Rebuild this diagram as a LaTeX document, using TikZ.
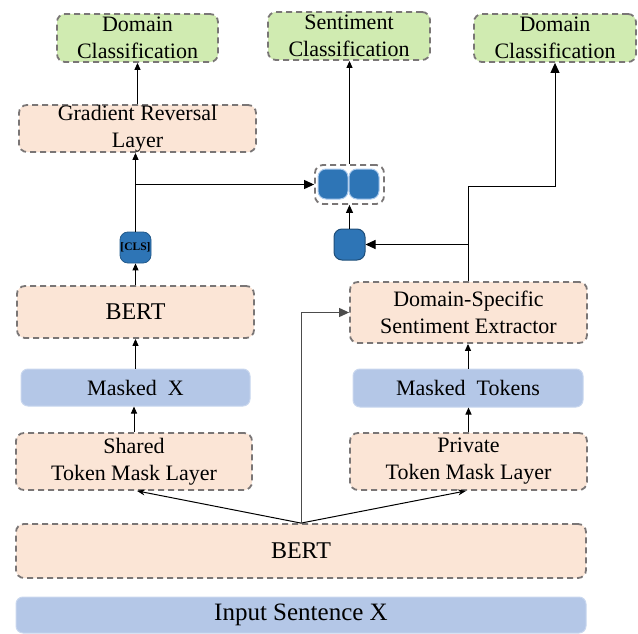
\documentclass[tikz,border=0pt]{standalone}
\usepackage{fontspec}
\setmainfont{Liberation Serif}
\usetikzlibrary{arrows.meta,calc}

\definecolor{peachfill}{HTML}{FBE5D6}
\definecolor{greenfill}{HTML}{D0EBB1}
\definecolor{barfill}{HTML}{B4C7E7}
\definecolor{barline}{HTML}{C8D6EE}
\definecolor{dashline}{HTML}{7A7676}
\definecolor{tokfill}{HTML}{2E75B6}
\definecolor{tokdark}{HTML}{1F4E79}
\definecolor{toklight}{HTML}{A9C9EC}

\tikzset{
  every node/.style={inner sep=0pt, align=center, font=\fontsize{22}{27}\selectfont},
  bigtext/.style={font=\fontsize{24}{28}\selectfont},
  dashbox/.style={draw=dashline, line width=1.8pt, dash pattern=on 6pt off 4pt,
    rounded corners=8pt},
  peachbox/.style={dashbox, fill=peachfill},
  greenbox/.style={dashbox, fill=greenfill},
  bluebar/.style={fill=barfill, draw=barline, line width=1pt, rounded corners=7pt},
  token/.style={fill=tokfill, rounded corners=8pt, minimum width=30pt, minimum height=30pt},
  arrS/.style={-{Triangle[length=7pt,width=6pt]}, line width=1pt},
  arrL/.style={-{Triangle[length=10pt,width=9pt]}, line width=1pt},
}

\begin{document}
\begin{tikzpicture}[x=1pt,y=-1pt]
\useasboundingbox (0,0) rectangle (638,634);

% classification heads
\node[greenbox, minimum width=161pt, minimum height=48pt] (dcl) at (137.5,38) {Domain\\Classification};
\node[greenbox, minimum width=162pt, minimum height=48pt] (sc)  at (349,36)   {Sentiment\\Classification};
\node[greenbox, minimum width=162pt, minimum height=48pt] (dcr) at (555,38)   {Domain\\Classification};

% shared branch
\node[peachbox, minimum width=237pt, minimum height=47pt] (grl) at (137.5,128.5) {Gradient Reversal\\Layer};
\node[token, draw=tokdark!70!tokfill, line width=0.8pt, minimum width=31pt, minimum height=31pt,
      font=\fontsize{11.5}{12}\selectfont\bfseries] (cls) at (135.5,247.5) {[CLS]};
\node[peachbox, bigtext, minimum width=237pt, minimum height=52pt] (bertl) at (135.5,312) {BERT};
\node[bluebar, minimum width=229pt, minimum height=37pt] (mx) at (135.5,387.5) {Masked\ \ X};
\node[peachbox, minimum width=236pt, minimum height=57pt] (stml) at (134,461.5) {Shared\\Token Mask Layer};

% private branch
\node[peachbox, minimum width=237pt, minimum height=61pt] (dsse) at (468.5,312.5) {Domain-Specific\\Sentiment Extractor};
\node[bluebar, minimum width=230pt, minimum height=38pt] (mt) at (468,388) {Masked\ \ Tokens};
\node[peachbox, minimum width=237pt, minimum height=57pt] (ptml) at (468.5,461.5) {Private\\Token Mask Layer};

% encoder and input
\node[peachbox, bigtext, minimum width=570pt, minimum height=54pt] (bertb) at (301,551) {BERT};
\node[bluebar, font=\fontsize{25}{30}\selectfont, minimum width=570pt, minimum height=36pt] (inp) at (301,615) {Input Sentence X};

% concatenated representation
\node[dashbox, minimum width=69pt, minimum height=39pt] (concat) at (349.5,184.5) {};
\node[token, draw=toklight, line width=1pt] (t1) at (333,184) {};
\node[token, draw=toklight, line width=1pt] (t2) at (364,184) {};
\node[token, draw=tokdark, line width=1pt, minimum width=31pt, minimum height=31pt] (sq) at (349.5,244.5) {};

% connectors, shared side
\coordinate (jb) at (bertb.north);
\draw[arrS] (grl.north) -- (grl.north |- dcl.south);
\draw[arrS] (cls.north) -- (cls.north |- grl.south);
\draw[arrL] (cls.north |- concat.west) -- (concat.west);
\draw[arrS] (bertl.north) -- (cls.south);
\draw[arrS] (mx.north) -- (mx.north |- bertl.south);
\draw[arrS] (stml.north) -- (stml.north |- mx.south);
\draw[-{Stealth[length=8pt,width=6pt]}, line width=1pt] (jb) -- ([xshift=3pt]stml.south);

% connectors, private side
\draw[-{Stealth[length=8pt,width=6pt]}, line width=1pt] (jb) -- ([xshift=-2.5pt]ptml.south);
\draw[arrL, draw=black!70] (jb) |- (dsse.west);
\draw[arrS] (ptml.north) -- (ptml.north |- mt.south);
\draw[arrS] (mt.north) -- (mt.north |- dsse.south);
\coordinate (bend) at (468.5,186);
\draw[arrL] (dsse.north) -- (bend) -| (dcr.south);
\draw[arrL] (dsse.north |- sq.east) -- (sq.east);
\draw[-{Triangle[length=8pt,width=7pt]}, line width=1pt] (sq.north) -- (concat.south);
\draw[arrS] (concat.north) -- (concat.north |- sc.south);
\end{tikzpicture}
\end{document}
